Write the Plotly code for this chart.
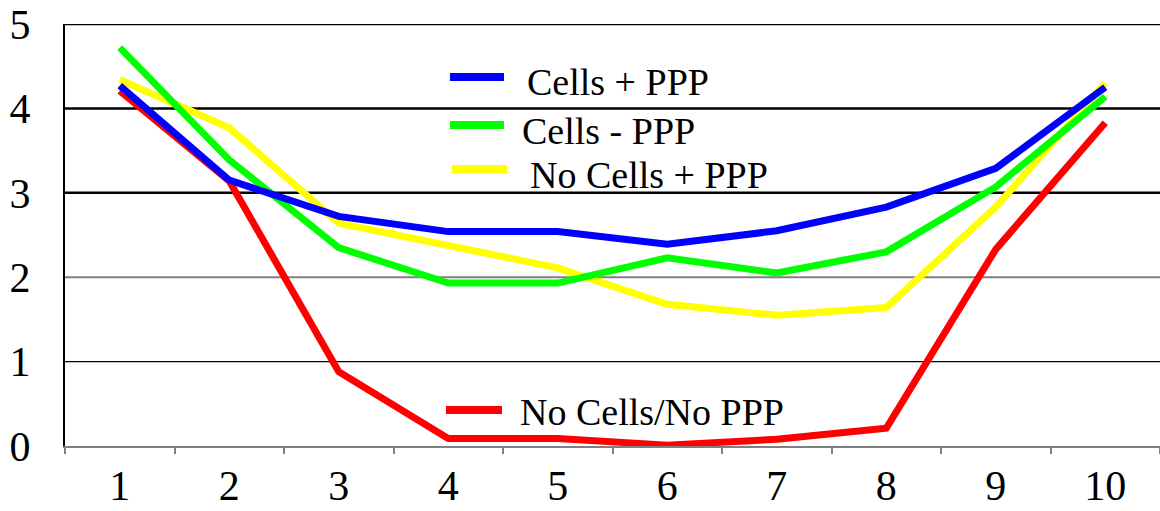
import plotly.graph_objects as go

categories = ["1", "2", "3", "4", "5", "6", "7", "8", "9", "10"]
cells_ppp = [4.27, 3.15, 2.72, 2.54, 2.54, 2.39, 2.55, 2.83, 3.29, 4.25]
cells_no_ppp = [4.72, 3.39, 2.35, 1.93, 1.93, 2.23, 2.05, 2.30, 3.07, 4.14]
nocells_ppp = [4.34, 3.77, 2.64, 2.38, 2.11, 1.68, 1.55, 1.64, 2.83, 4.30]
nocells_noppp = [4.21, 3.14, 0.88, 0.09, 0.09, 0.01, 0.08, 0.21, 2.33, 3.83]
y_ticks = [0, 1, 2, 3, 4, 5]

series = [
    ("No Cells/No PPP", nocells_noppp, "#FF0000"),
    ("No Cells + PPP", nocells_ppp, "#FFFF00"),
    ("Cells - PPP", cells_no_ppp, "#00FF00"),
    ("Cells + PPP", cells_ppp, "#0000FF"),
]

FONT = "'Times New Roman', 'Liberation Serif', 'DejaVu Serif', serif"

fig = go.Figure()
for name, vals, color in series:
    fig.add_trace(go.Scatter(x=categories, y=vals, mode="lines", name=name,
                             line=dict(color=color, width=7), showlegend=False))

# gridlines (styled individually like the original)
grid_style = {5: ("#000000", 2.5), 4: ("#000000", 2.5), 3: ("#000000", 2.5),
              2: ("#808080", 2), 1: ("#000000", 1.2)}
shapes = []
for v in y_ticks[1:]:
    c, w = grid_style[v]
    shapes.append(dict(type="line", xref="paper", yref="y", x0=0, x1=1, y0=v, y1=v,
                       line=dict(color=c, width=w), layer="below"))

# legend keys (positioned as in the original)
legend_pos = {
    "Cells + PPP": (0.3516, 0.4009, 0.8744, 0.4200, 0.862),
    "Cells - PPP": (0.3516, 0.4009, 0.7607, 0.4155, 0.746),
    "No Cells + PPP": (0.3534, 0.4037, 0.6564, 0.4228, 0.642),
    "No Cells/No PPP": (0.3479, 0.3991, 0.0853, 0.4137, 0.080),
}
annotations = []
for name, vals, color in series:
    x0, x1, ys, xt, yt = legend_pos[name]
    shapes.append(dict(type="line", xref="paper", yref="paper", x0=x0, x1=x1, y0=ys, y1=ys,
                       line=dict(color=color, width=8)))
    annotations.append(dict(xref="paper", yref="paper", x=xt, y=yt, text=name,
                            showarrow=False, xanchor="left", yanchor="middle",
                            font=dict(family=FONT, size=38, color="#000000")))

fig.update_layout(
    width=1160, height=511,
    margin=dict(l=65, r=0, t=24, b=65),
    paper_bgcolor="white", plot_bgcolor="white",
    shapes=shapes, annotations=annotations,
    font=dict(family=FONT, color="#000000"),
    xaxis=dict(type="category", range=[-0.5, 9.5], showgrid=False,
               showline=True, linecolor="#808080", linewidth=2,
               ticks="outside", tickson="boundaries", ticklen=6, tickcolor="#808080",
               tickwidth=1.5, tickfont=dict(size=42, family=FONT), ticklabelstandoff=2),
    yaxis=dict(range=[0, 5], tickvals=y_ticks, showgrid=False, zeroline=False,
               showline=True, linecolor="#000000", linewidth=2, ticks="",
               tickfont=dict(size=42, family=FONT), ticklabelstandoff=24),
)

fig.write_html("out.html")
